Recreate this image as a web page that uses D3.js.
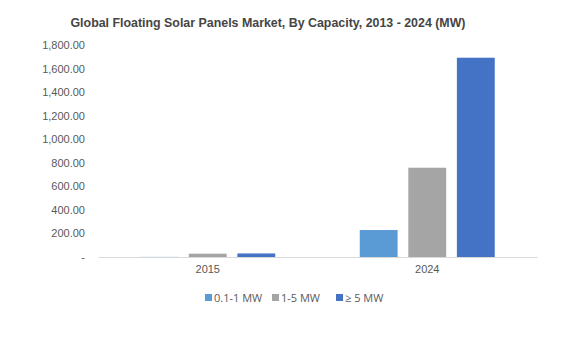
<!DOCTYPE html>
<html>
<head>
<meta charset="utf-8">
<script src="https://cdn.jsdelivr.net/npm/d3@7"></script>
<style>
  body { margin: 0; background: #fff; }
  svg { display: block; font-family: "Open Sans", "Liberation Sans", sans-serif; }
</style>
</head>
<body>
<div id="chart"></div>
<script>
const years = ['2015', '2024']
const seriesNames = ['0.1-1 MW', '1-5 MW', '\u2265 5 MW']
const smallMW = [1, 229]
const midMW = [28, 758]
const largeMW = [30, 1692]
const yTicks = [0, 200, 400, 600, 800, 1000, 1200, 1400, 1600, 1800]
const colors = ['#5B9BD5', '#A5A5A5', '#4472C4']

const width = 569, height = 339
const margin = {top: 45, right: 32, bottom: 82, left: 98}
const w = width - margin.left - margin.right
const h = height - margin.top - margin.bottom

const svg = d3.select('#chart').append('svg')
    .attr('width', width)
    .attr('height', height)

svg.append('text')
    .attr('x', 268)
    .attr('y', 27)
    .attr('text-anchor', 'middle')
    .attr('font-family', '"Liberation Sans", Arial, sans-serif')
    .attr('font-size', 12.4)
    .attr('font-weight', 'bold')
    .attr('fill', '#454545')
    .text('Global Floating Solar Panels Market, By Capacity, 2013 - 2024 (MW)')

const g = svg.append('g')
    .attr('transform', 'translate(' + margin.left + ',' + margin.top + ')')

const x = d3.scaleBand().domain(years).range([0, w])
const y = d3.scaleLinear().domain([0, 1800]).range([h, 0])
const x1 = d3.scaleBand().domain(seriesNames).range([-67.5, 67.5]).paddingInner(0.22)

// y axis labels only
const yAxis = g.append('g')
    .call(d3.axisLeft(y).tickValues(yTicks).tickSize(0).tickPadding(13)
      .tickFormat(d => d === 0 ? '-' : d3.format(',.2f')(d)))
yAxis.select('.domain').remove()
yAxis.selectAll('text')
    .attr('font-size', 11)
    .attr('fill', '#595959')

const data = years.map((yr, i) => ({year: yr, values: [smallMW[i], midMW[i], largeMW[i]]}))

const groups = g.selectAll('.grp')
  .data(data)
  .enter().append('g')
    .attr('transform', d => 'translate(' + (x(d.year) + x.bandwidth() / 2) + ',0)')

groups.selectAll('rect')
  .data(d => d.values.map((v, k) => ({name: seriesNames[k], value: v, k: k})))
  .enter().append('rect')
    .attr('x', d => x1(d.name))
    .attr('width', x1.bandwidth())
    .attr('y', d => y(d.value))
    .attr('height', d => h - y(d.value))
    .attr('fill', d => colors[d.k])

const xAxis = g.append('g')
    .attr('transform', 'translate(0,' + h + ')')
    .call(d3.axisBottom(x).tickSize(0).tickPadding(8))
xAxis.select('.domain').attr('stroke', '#D9D9D9')
xAxis.selectAll('text')
    .attr('font-size', 11)
    .attr('fill', '#595959')

// legend
const legendX = [205, 272, 336]
const legend = svg.append('g')
  .selectAll('g')
  .data(seriesNames)
  .enter().append('g')
    .attr('transform', (d, i) => 'translate(' + legendX[i] + ',294)')
legend.append('rect')
    .attr('width', 7)
    .attr('height', 7)
    .attr('fill', (d, i) => colors[i])
legend.append('text')
    .attr('x', 9)
    .attr('y', 7.5)
    .attr('font-size', 11)
    .attr('fill', '#595959')
    .text(d => d)
</script>
</body>
</html>
